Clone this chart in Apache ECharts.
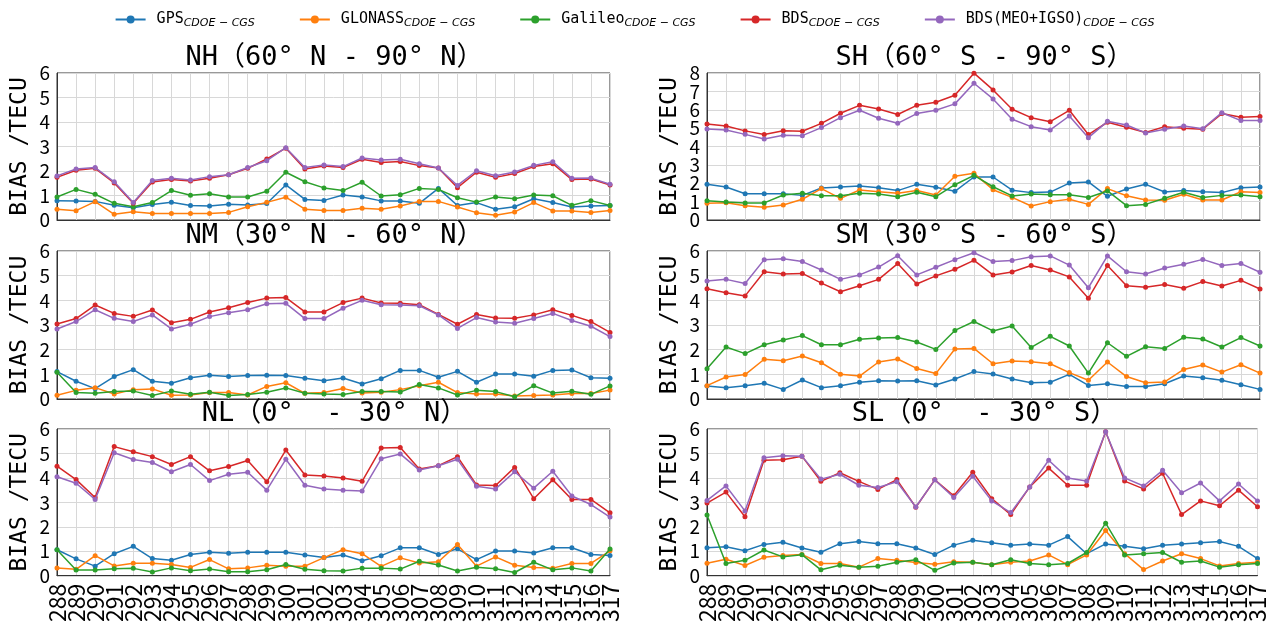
<!DOCTYPE html>
<html>
<head>
<meta charset="utf-8">
<script src="https://cdn.jsdelivr.net/npm/echarts/dist/echarts.min.js"></script>
<style>
  html, body { margin: 0; padding: 0; background: #fff; }
  #chart { width: 1269px; height: 625px; }
</style>
</head>
<body>
<div id="chart"></div>
<script>
// Day of year (x axis tick labels)
const days = ['288','289','290','291','292','293','294','295','296','297','298','299','300','301','302',
              '303','304','305','306','307','308','309','310','311','312','313','314','315','316','317'];

const systems = ['GPS', 'GLONASS', 'Galileo', 'BDS', 'BDS(MEO+IGSO)'];

// NH (60°N - 90°N)
const NH_GPS     = [0.79,0.78,0.76,0.60,0.50,0.63,0.72,0.59,0.57,0.64,0.61,0.67,1.43,0.84,0.80,1.02,0.94,0.78,0.78,0.68,1.29,0.59,0.71,0.44,0.54,0.87,0.71,0.53,0.57,0.59];
const NH_GLONASS = [0.44,0.38,0.75,0.23,0.34,0.27,0.27,0.27,0.27,0.31,0.54,0.72,0.93,0.44,0.39,0.39,0.48,0.44,0.57,0.76,0.76,0.53,0.30,0.19,0.33,0.71,0.37,0.37,0.31,0.39];
const NH_GALILEO = [0.94,1.25,1.05,0.68,0.54,0.71,1.20,1.01,1.07,0.94,0.94,1.17,1.95,1.56,1.31,1.20,1.54,0.98,1.03,1.29,1.25,0.91,0.73,0.94,0.87,1.02,0.99,0.60,0.79,0.59];
const NH_BDS     = [1.74,2.03,2.11,1.51,0.68,1.55,1.65,1.59,1.70,1.85,2.11,2.49,2.93,2.08,2.20,2.14,2.48,2.35,2.39,2.22,2.12,1.32,1.95,1.74,1.90,2.18,2.30,1.65,1.67,1.43];
const NH_BDS_MI  = [1.80,2.08,2.14,1.56,0.71,1.61,1.70,1.63,1.77,1.85,2.14,2.42,2.95,2.14,2.25,2.18,2.53,2.45,2.48,2.30,2.12,1.41,2.01,1.81,1.96,2.23,2.38,1.70,1.71,1.46];

// SH (60°S - 90°S)
const SH_GPS     = [1.94,1.80,1.43,1.43,1.43,1.34,1.74,1.80,1.85,1.76,1.60,1.94,1.78,1.56,2.34,2.34,1.62,1.49,1.52,2.01,2.07,1.29,1.69,1.94,1.52,1.60,1.54,1.49,1.76,1.80];
const SH_GLONASS = [0.91,0.94,0.78,0.69,0.82,1.13,1.71,1.18,1.63,1.54,1.45,1.60,1.36,2.38,2.54,1.65,1.23,0.76,1.00,1.13,0.85,1.71,1.32,1.09,1.07,1.40,1.09,1.09,1.54,1.49];
const SH_GALILEO = [1.05,0.98,0.93,0.93,1.36,1.45,1.32,1.32,1.45,1.42,1.27,1.51,1.27,1.92,2.43,1.81,1.31,1.42,1.38,1.38,1.22,1.58,0.78,0.85,1.18,1.51,1.22,1.34,1.36,1.27];
const SH_BDS     = [5.23,5.12,4.85,4.65,4.86,4.83,5.26,5.81,6.24,6.04,5.74,6.24,6.41,6.79,7.99,7.08,6.03,5.57,5.35,5.97,4.65,5.32,5.05,4.76,5.08,4.99,4.94,5.79,5.59,5.63];
const SH_BDS_MI  = [4.95,4.90,4.66,4.41,4.61,4.59,5.03,5.57,5.97,5.54,5.26,5.79,5.97,6.32,7.44,6.59,5.48,5.08,4.90,5.66,4.48,5.37,5.17,4.74,4.94,5.12,4.97,5.84,5.41,5.41];

// NM (30°N - 60°N)
const NM_GPS     = [1.11,0.72,0.42,0.91,1.19,0.72,0.64,0.86,0.96,0.91,0.95,0.96,0.95,0.84,0.74,0.85,0.61,0.82,1.16,1.16,0.88,1.12,0.68,1.01,1.01,0.92,1.16,1.18,0.86,0.84];
const NM_GLONASS = [0.15,0.35,0.46,0.20,0.38,0.41,0.15,0.16,0.26,0.26,0.16,0.51,0.66,0.23,0.26,0.43,0.24,0.27,0.38,0.54,0.68,0.26,0.20,0.20,0.12,0.14,0.16,0.22,0.22,0.36];
const NM_GALILEO = [1.08,0.26,0.23,0.30,0.32,0.14,0.32,0.19,0.27,0.14,0.18,0.27,0.45,0.23,0.20,0.18,0.30,0.30,0.28,0.59,0.45,0.16,0.35,0.30,0.09,0.54,0.24,0.31,0.19,0.53];
const NM_BDS     = [3.04,3.26,3.81,3.47,3.35,3.61,3.09,3.23,3.53,3.70,3.91,4.09,4.11,3.53,3.53,3.91,4.09,3.89,3.88,3.82,3.43,3.03,3.43,3.28,3.27,3.41,3.62,3.39,3.14,2.70];
const NM_BDS_MI  = [2.84,3.14,3.62,3.27,3.14,3.41,2.84,3.03,3.34,3.50,3.62,3.86,3.88,3.26,3.26,3.68,4.00,3.82,3.81,3.78,3.41,2.86,3.30,3.12,3.07,3.26,3.47,3.18,2.95,2.53];

// SM (30°S - 60°S)
const SM_GPS     = [0.53,0.46,0.54,0.64,0.39,0.77,0.46,0.54,0.68,0.74,0.73,0.74,0.57,0.81,1.11,1.01,0.81,0.66,0.68,1.00,0.55,0.62,0.51,0.51,0.62,0.93,0.86,0.76,0.58,0.39];
const SM_GLONASS = [0.54,0.89,0.99,1.61,1.55,1.74,1.47,1.00,0.93,1.50,1.62,1.24,1.03,2.03,2.05,1.43,1.54,1.51,1.43,1.07,0.76,1.50,0.91,0.66,0.69,1.20,1.38,1.09,1.39,1.05];
const SM_GALILEO = [1.23,2.11,1.84,2.20,2.39,2.57,2.20,2.20,2.42,2.47,2.49,2.31,2.01,2.78,3.14,2.76,2.96,2.09,2.54,2.15,1.05,2.28,1.73,2.12,2.05,2.50,2.43,2.11,2.49,2.15];
const SM_BDS     = [4.47,4.31,4.18,5.16,5.07,5.09,4.70,4.35,4.59,4.85,5.49,4.66,4.99,5.26,5.62,5.03,5.15,5.41,5.23,4.95,4.08,5.41,4.59,4.53,4.64,4.49,4.76,4.58,4.81,4.46];
const SM_BDS_MI  = [4.78,4.85,4.68,5.65,5.69,5.57,5.23,4.85,5.03,5.35,5.81,5.03,5.34,5.65,5.93,5.57,5.61,5.77,5.80,5.43,4.51,5.80,5.16,5.07,5.31,5.46,5.66,5.41,5.49,5.14];

// NL (0° - 30°N)
const NL_GPS     = [1.06,0.69,0.39,0.90,1.20,0.70,0.63,0.87,0.96,0.92,0.96,0.96,0.96,0.85,0.74,0.85,0.61,0.82,1.14,1.14,0.87,1.10,0.66,1.01,1.01,0.93,1.14,1.14,0.87,0.83];
const NL_GLONASS = [0.32,0.26,0.82,0.40,0.51,0.51,0.46,0.34,0.66,0.28,0.32,0.43,0.39,0.39,0.74,1.06,0.90,0.38,0.73,0.52,0.57,1.28,0.39,0.77,0.43,0.34,0.31,0.50,0.50,1.02];
const NL_GALILEO = [1.06,0.23,0.23,0.28,0.30,0.15,0.32,0.20,0.27,0.16,0.16,0.24,0.46,0.26,0.20,0.19,0.31,0.31,0.27,0.59,0.44,0.19,0.35,0.28,0.13,0.55,0.24,0.32,0.19,1.09];
const NL_BDS     = [4.48,3.93,3.20,5.28,5.07,4.87,4.55,4.87,4.29,4.47,4.71,3.84,5.14,4.12,4.08,4.00,3.86,5.22,5.24,4.36,4.50,4.87,3.71,3.69,4.43,3.15,3.92,3.12,3.12,2.57];
const NL_BDS_MI  = [4.05,3.78,3.12,5.03,4.75,4.63,4.25,4.55,3.89,4.15,4.23,3.50,4.76,3.70,3.55,3.49,3.46,4.78,4.98,4.32,4.50,4.76,3.66,3.55,4.25,3.58,4.27,3.26,2.91,2.40];

// SL (0° - 30°S)
const SL_GPS     = [1.14,1.18,1.02,1.28,1.37,1.13,0.96,1.31,1.40,1.31,1.31,1.13,0.87,1.25,1.45,1.35,1.25,1.30,1.25,1.60,0.90,1.30,1.20,1.10,1.25,1.30,1.35,1.40,1.20,0.70];
const SL_GLONASS = [0.51,0.67,0.42,0.75,0.83,0.87,0.50,0.50,0.35,0.70,0.63,0.54,0.47,0.57,0.55,0.45,0.55,0.60,0.85,0.45,0.85,1.85,0.90,0.25,0.60,0.90,0.70,0.40,0.50,0.55];
const SL_GALILEO = [2.48,0.50,0.63,1.05,0.77,0.86,0.24,0.43,0.35,0.39,0.55,0.65,0.22,0.52,0.55,0.45,0.65,0.50,0.45,0.50,0.95,2.15,0.85,0.90,0.95,0.55,0.60,0.35,0.45,0.50];
const SL_BDS     = [2.97,3.42,2.41,4.72,4.74,4.89,3.86,4.21,3.86,3.53,3.93,2.80,3.92,3.27,4.23,3.15,2.50,3.63,4.40,3.70,3.70,5.89,3.87,3.55,4.19,2.50,3.06,2.86,3.50,2.82];
const SL_BDS_MI  = [3.08,3.67,2.65,4.82,4.91,4.89,3.95,4.15,3.70,3.61,3.84,2.81,3.92,3.20,4.07,3.06,2.58,3.63,4.72,4.00,3.87,5.89,4.00,3.67,4.31,3.39,3.79,3.06,3.75,3.06];

const colors = ['#1f77b4', '#ff7f0e', '#2ca02c', '#d62728', '#9467bd'];
const FONT = '"Noto Sans CJK SC", "Noto Sans", sans-serif';
const MONO = '"DejaVu Sans Mono", "Noto Sans CJK SC", monospace';

// Panel layout: 3 rows x 2 columns
const colLeft = [57, 707];
const plotWidth = 553;
const rows = [{ top: 73, height: 147 }, { top: 251, height: 148 }, { top: 429, height: 149 }];

const panels = [
  { title: 'NH（60° N - 90° N）', col: 0, row: 0, ymax: 6, series: [NH_GPS, NH_GLONASS, NH_GALILEO, NH_BDS, NH_BDS_MI] },
  { title: 'SH（60° S - 90° S）', col: 1, row: 0, ymax: 8, series: [SH_GPS, SH_GLONASS, SH_GALILEO, SH_BDS, SH_BDS_MI] },
  { title: 'NM（30° N - 60° N）', col: 0, row: 1, ymax: 6, series: [NM_GPS, NM_GLONASS, NM_GALILEO, NM_BDS, NM_BDS_MI] },
  { title: 'SM（30° S - 60° S）', col: 1, row: 1, ymax: 6, series: [SM_GPS, SM_GLONASS, SM_GALILEO, SM_BDS, SM_BDS_MI] },
  { title: 'NL（0°  - 30° N）', col: 0, row: 2, ymax: 6, series: [NL_GPS, NL_GLONASS, NL_GALILEO, NL_BDS, NL_BDS_MI] },
  { title: 'SL（0°  - 30° S）', col: 1, row: 2, ymax: 6, series: [SL_GPS, SL_GLONASS, SL_GALILEO, SL_BDS, SL_BDS_MI] }
];

const grids = [], xAxes = [], yAxes = [], titles = [], series = [];
const extraAxes = [];

const yLabelStyle = { margin: 7, fontFamily: FONT, fontSize: 19, color: '#000', showMinLabel: true, showMaxLabel: true };

panels.forEach((p, i) => {
  const r = rows[p.row];
  const left = colLeft[p.col];
  grids.push({
    left: left, top: r.top, width: plotWidth, height: r.height,
    show: true, borderColor: '#333', borderWidth: 1, backgroundColor: 'transparent'
  });
  titles.push({
    text: p.title,
    left: left + plotWidth / 2 - 4, top: r.top - 34, textAlign: 'center',
    textStyle: { fontFamily: MONO, fontSize: 27, fontWeight: 'normal', color: '#000' }
  });
  const bottomRow = p.row === 2;
  xAxes.push({
    type: 'category', gridIndex: i, data: days, boundaryGap: false,
    axisLine: { show: true, lineStyle: { color: '#333', width: 1 } },
    axisTick: { show: false },
    axisLabel: {
      show: bottomRow, interval: 0, rotate: 90, margin: 8,
      fontFamily: FONT, fontSize: 23, color: '#000'
    },
    splitLine: { show: true, interval: 0, lineStyle: { color: '#d8d8d8', width: 1 } }
  });
  // Densely packed ticks (0..8) are split over two coincident axes so that
  // every integer keeps its label.
  const dense = p.ymax > 6;
  yAxes.push({
    type: 'value', gridIndex: i, min: 0, max: p.ymax, interval: 1,
    name: 'BIAS /TECU', nameLocation: 'middle', nameGap: 25, nameRotate: 90,
    nameTextStyle: { fontFamily: MONO, fontSize: 23, color: '#000' },
    axisLine: { show: true, lineStyle: { color: '#333', width: 1 } },
    axisTick: { show: false },
    axisLabel: Object.assign({}, yLabelStyle, dense ? { formatter: v => (v % 2 === 0 ? String(v) : '') } : {}),
    splitLine: { show: true, lineStyle: { color: '#d8d8d8', width: 1 } }
  });
  if (dense) {
    extraAxes.push({
      type: 'value', gridIndex: i, position: 'left', offset: 0,
      min: 0, max: p.ymax, interval: 1,
      axisLine: { show: false }, axisTick: { show: false }, splitLine: { show: false },
      axisLabel: Object.assign({}, yLabelStyle, { showMinLabel: false, showMaxLabel: false, formatter: v => (v % 2 === 1 ? String(v) : '') })
    });
  }
  p.series.forEach((vals, k) => {
    series.push({
      type: 'line', name: systems[k], xAxisIndex: i, yAxisIndex: i,
      data: vals, color: colors[k],
      symbol: 'circle', symbolSize: 5, showSymbol: true,
      lineStyle: { width: 1.5 },
      emphasis: { disabled: true },
      z: 2 + k
    });
  });
});

const chart = echarts.init(document.getElementById('chart'), null, { renderer: 'canvas' });
chart.setOption({
  animation: false,
  backgroundColor: '#fff',
  title: titles,
  legend: {
    data: systems, top: 7, left: 'center', itemGap: 44, itemWidth: 30, itemHeight: 10,
    formatter: name => `{m|${name}}{s|CDOE − CGS}`,
    textStyle: {
      fontFamily: MONO, color: '#000', padding: [0, 0, 0, 6],
      rich: {
        m: { fontSize: 15, fontFamily: MONO, color: '#000' },
        s: { fontSize: 11, fontFamily: '"DejaVu Sans", sans-serif', fontStyle: 'italic', color: '#000', padding: [8, 0, 0, 0] }
      }
    }
  },
  grid: grids,
  xAxis: xAxes,
  yAxis: yAxes.concat(extraAxes),
  series: series
});
</script>
</body>
</html>
